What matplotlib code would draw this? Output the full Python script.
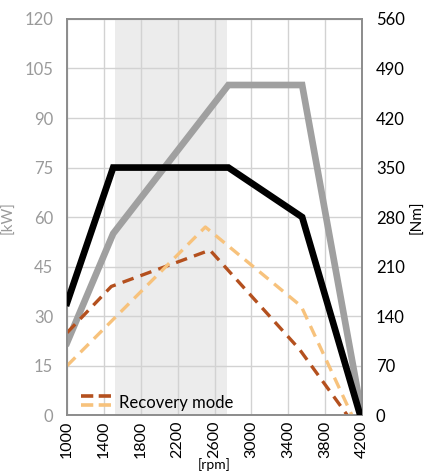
import numpy as np
import matplotlib
matplotlib.use('Agg')
import matplotlib.pyplot as plt
from matplotlib.lines import Line2D
from matplotlib.legend_handler import HandlerBase

plt.rcParams['font.family'] = ['Lato', 'DejaVu Sans']

# data
rpm_power = [1000, 1500, 2750, 3550, 4200]
power_kw = [22, 55, 100, 100, 0]

rpm_torque = [1000, 1500, 2750, 3550, 4180]
torque_nm = [159, 350, 350, 280, 0]

rpm_rec1 = [1000, 1480, 2550, 3520, 4040]
rec1_kw = [25, 39, 50, 20, 0]

rpm_rec2 = [1000, 2500, 3540, 4090]
rec2_kw = [15, 57, 33, 0]

shade_span = (1520, 2730)
x_ticks = list(range(1000, 4201, 400))
kw_ticks = list(range(0, 121, 15))
nm_ticks = list(range(0, 561, 70))

brown = '#b4501e'
light = '#f7c27c'
grey = '#a0a0a0'


class TwoLines(HandlerBase):
    # legend handle: two dashed lines stacked
    def create_artists(self, legend, orig_handle, xd, yd, w, h, fontsize, trans):
        out = []
        for i, ln in enumerate(orig_handle):
            y = yd + h * (0.95 - 0.75 * i)
            l = Line2D([xd, xd + w], [y, y], color=ln.get_color(),
                       lw=2.6, dashes=(3.4, 1.5), transform=trans)
            out.append(l)
        return out


fig = plt.figure(figsize=(4.3, 4.74), dpi=100)
ax = fig.add_axes([0.156, 0.124, 0.686, 0.836])
ax2 = ax.twinx()

ax.axvspan(*shade_span, color='#ececec', zorder=0, lw=0)

ax.plot(rpm_power, power_kw, color=grey, lw=4.8, solid_joinstyle='miter', zorder=3)
ax2.plot(rpm_torque, torque_nm, color='black', lw=4.8, solid_joinstyle='miter', zorder=3)
l1, = ax.plot(rpm_rec1, rec1_kw, color=brown, lw=2.4, dashes=(3.5, 2.2), zorder=4)
l2, = ax.plot(rpm_rec2, rec2_kw, color=light, lw=2.4, dashes=(3.5, 2.2), zorder=4)

ax.set_xlim(1000, 4200)
ax.set_ylim(0, 120)
ax2.set_ylim(0, 560)
ax.set_xticks(x_ticks)
ax.set_yticks(kw_ticks)
ax2.set_yticks(nm_ticks)
ax.grid(True, color='#d2d2d2', lw=1)
ax.set_axisbelow(True)

ax.tick_params(axis='x', length=0, labelsize=11.5, labelrotation=90, pad=4)
ax.tick_params(axis='y', length=0, labelsize=12, labelcolor='#9a9a9a', pad=10)
ax2.tick_params(axis='y', length=0, labelsize=12, labelcolor='black', pad=10)

for a in (ax, ax2):
    for s in a.spines.values():
        s.set_color('#8c8c8c')
        s.set_linewidth(1.2)

ax.set_ylabel('[kW]', color='#9a9a9a', fontsize=11, labelpad=6)
ax2.set_ylabel('[Nm]', color='black', fontsize=11, rotation=90, labelpad=4)
ax.set_xlabel('[rpm]', fontsize=10, labelpad=0)

ax.legend([(l1, l2)], ['Recovery mode'], handler_map={tuple: TwoLines()},
          loc='lower left', frameon=False, fontsize=12, handlelength=1.8,
          handletextpad=0.5, borderaxespad=0.0, bbox_to_anchor=(0.025, -0.005))

fig.savefig('out.png', dpi=100)
